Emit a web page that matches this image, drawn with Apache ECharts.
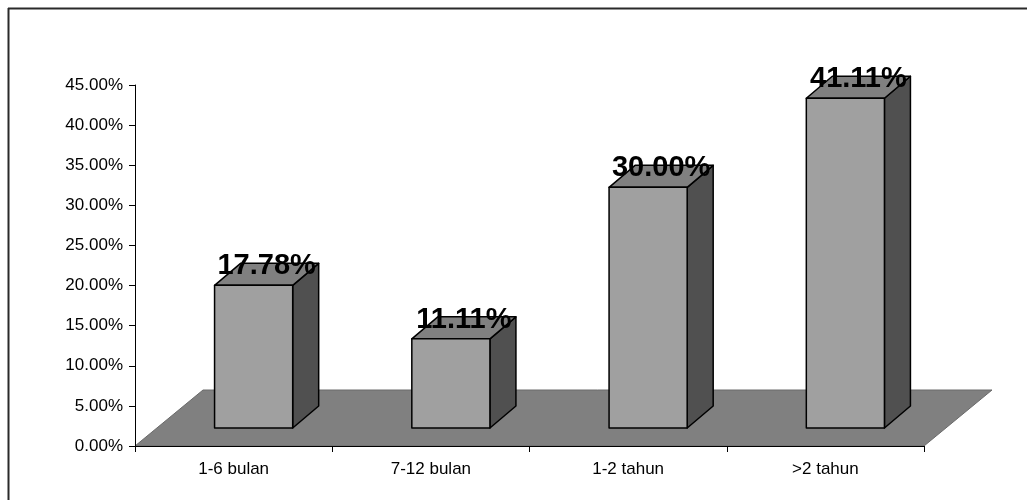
<!DOCTYPE html>
<html>
<head>
<meta charset="utf-8">
<script src="https://cdn.jsdelivr.net/npm/echarts@6/dist/echarts.min.js"></script>
<style>
  html, body { margin: 0; padding: 0; background: #fff; }
  #chart { width: 1027px; height: 500px; }
</style>
</head>
<body>
<div id="chart"></div>
<script>
// Lama kerja (duration groups) and their share, in percent
const categories = ['1-6 bulan', '7-12 bulan', '1-2 tahun', '>2 tahun'];
const shares = [17.78, 11.11, 30.00, 41.11];
const yTicks = { min: 0, max: 45, step: 5 };

const chart = echarts.init(document.getElementById('chart'), null, { renderer: 'canvas' });

// Oblique projection of the 3D box view
const FLOOR_DX = 68, FLOOR_DY = -56;   // full floor depth
const BAR_OFF_X = 20, BAR_OFF_Y = -18; // bar front face offset from the axis plane
const BAR_DX = 26, BAR_DY = -22;       // bar depth

function floorItem(params, api) {
  if (params.dataIndex !== 0) return null;
  const cs = params.coordSys;
  const y0 = api.coord([0, 0])[1];
  const x0 = cs.x, x1 = cs.x + cs.width;
  return {
    type: 'polygon',
    shape: { points: [[x0, y0], [x1, y0], [x1 + FLOOR_DX, y0 + FLOOR_DY], [x0 + FLOOR_DX, y0 + FLOOR_DY]] },
    style: { fill: '#808080', stroke: '#6a6a6a', lineWidth: 1 }
  };
}

function barItem(params, api) {
  const idx = api.value(0);
  const v = api.value(1);
  const base = api.coord([idx, 0]);
  const top = api.coord([idx, v]);
  const band = api.size([1, 0])[0];
  const w = band * 0.396;
  const cx = base[0] + BAR_OFF_X;
  const xl = cx - w / 2, xr = cx + w / 2;
  const yb = base[1] + BAR_OFF_Y, yt = top[1] + BAR_OFF_Y;
  const edge = { stroke: '#000', lineWidth: 1.5, lineJoin: 'round' };
  return {
    type: 'group',
    children: [
      { type: 'polygon', shape: { points: [[xr, yb], [xr + BAR_DX, yb + BAR_DY], [xr + BAR_DX, yt + BAR_DY], [xr, yt]] },
        style: Object.assign({ fill: '#505050' }, edge) },
      { type: 'polygon', shape: { points: [[xl, yt], [xr, yt], [xr + BAR_DX, yt + BAR_DY], [xl + BAR_DX, yt + BAR_DY]] },
        style: Object.assign({ fill: '#808080' }, edge) },
      { type: 'rect', shape: { x: xl, y: yt, width: w, height: yb - yt },
        style: Object.assign({ fill: '#a0a0a0' }, edge) },
      { type: 'text', x: cx + BAR_DX / 2, y: yt + BAR_DY + 3,
        style: { text: v.toFixed(2) + '%', fill: '#000', font: 'bold 29px "Liberation Sans", Arial, sans-serif',
                 align: 'center', verticalAlign: 'middle' } }
    ]
  };
}

const seriesData = categories.map((c, i) => [i, shares[i]]);

chart.setOption({
  animation: false,
  backgroundColor: '#fff',
  grid: { left: 135, right: 103, top: 85, bottom: 54 },
  xAxis: {
    type: 'category',
    data: categories,
    z: 10,
    axisLine: { lineStyle: { color: '#000', width: 1 } },
    axisTick: { show: true, length: 6, lineStyle: { color: '#000' } },
    axisLabel: { color: '#000', fontSize: 17, fontFamily: '"Liberation Sans", Arial, sans-serif', margin: 15 },
    splitLine: { show: false }
  },
  yAxis: {
    type: 'value',
    min: yTicks.min, max: yTicks.max, interval: yTicks.step,
    z: 10,
    axisLine: { show: true, lineStyle: { color: '#000', width: 1 } },
    axisTick: { show: true, length: 6, lineStyle: { color: '#000' } },
    axisLabel: { color: '#000', fontSize: 17, fontFamily: '"Liberation Sans", Arial, sans-serif', margin: 12,
                 formatter: v => v.toFixed(2) + '%' },
    splitLine: { show: false }
  },
  graphic: [
    { type: 'line', shape: { x1: 8, y1: 8.5, x2: 1027, y2: 8.5 }, style: { stroke: '#2a2a2a', lineWidth: 2 } },
    { type: 'line', shape: { x1: 8.5, y1: 8, x2: 8.5, y2: 500 }, style: { stroke: '#2a2a2a', lineWidth: 2 } }
  ],
  series: [
    { type: 'custom', name: 'floor', renderItem: floorItem, data: seriesData, z: 1, silent: true },
    { type: 'custom', name: 'Lama kerja', renderItem: barItem, data: seriesData, z: 2,
      encode: { x: 0, y: 1 } }
  ]
});
</script>
</body>
</html>
